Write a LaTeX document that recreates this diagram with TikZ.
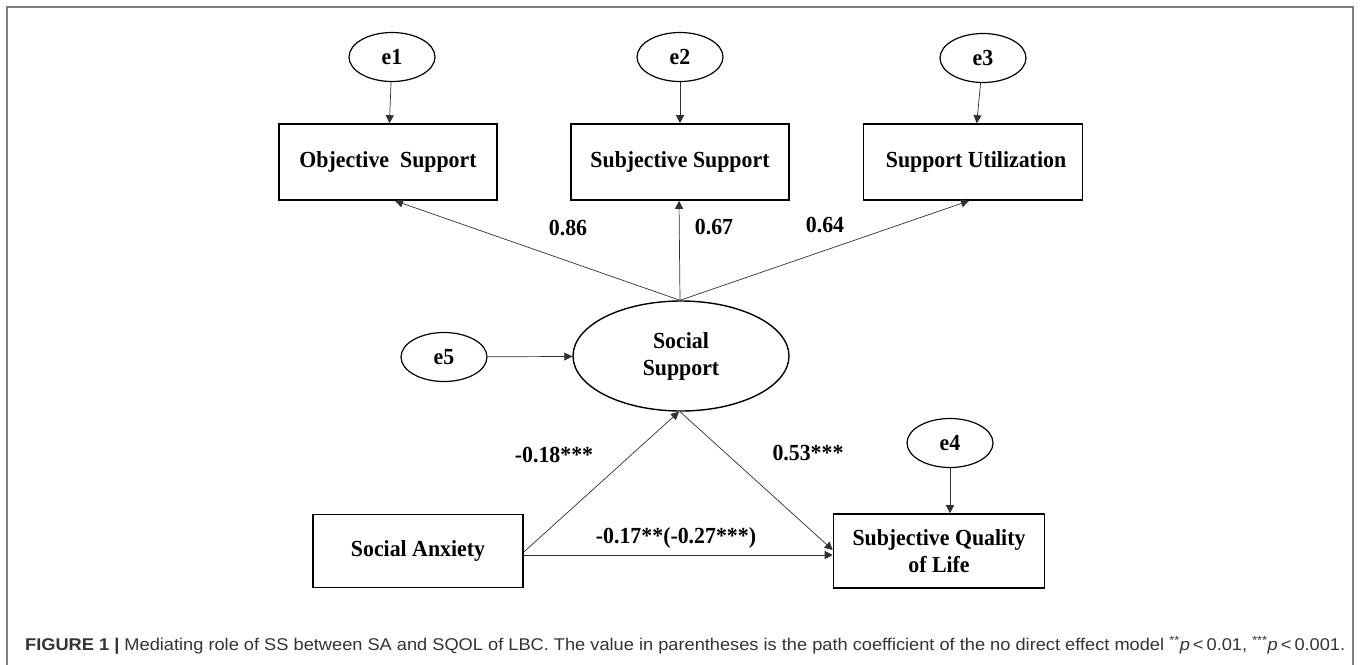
\documentclass[tikz,border=0pt]{standalone}
\usepackage{fontspec}
\setmainfont[FakeStretch=0.95]{Liberation Serif}
\newfontfamily\capfont{Liberation Sans}
\usetikzlibrary{shapes.geometric,arrows.meta}
\definecolor{framegray}{HTML}{808080}
\definecolor{capgray}{HTML}{333333}
\definecolor{linegray}{HTML}{303030}
\begin{document}
\begin{tikzpicture}[x=1pt,y=-1pt,
  every node/.style={font=\fontsize{23}{27}\selectfont\bfseries, align=center},
  obsbox/.style={draw=black, line width=1.6pt, rectangle, inner sep=0pt},
  errell/.style={draw=black, line width=1.2pt, ellipse, inner sep=0pt, minimum width=86pt, minimum height=49pt},
  latell/.style={draw=black, line width=1.4pt, ellipse, inner sep=0pt, minimum width=216pt, minimum height=110pt},
  conn/.style={draw=linegray, line width=0.7pt, -{Triangle[length=8pt,width=8pt]}},
  coef/.style={inner sep=0pt}
]
\useasboundingbox (0,0) rectangle (1360,664);
\draw[framegray, line width=1.5pt] (7,666) -- (7,7) -- (1353,7) -- (1353,666);

% error terms
\node[errell] (e1) at (392,57) {e1};
\node[errell] (e2) at (680,57) {e2};
\node[errell] (e3) at (983,58) {e3};
\node[errell] (e5) at (444,357) {e5};
\node[errell] (e4) at (950,443) {e4};

% observed boxes
\node[obsbox, minimum width=218pt, minimum height=76pt] (os) at (388,162) {Objective\ \ Support};
\node[obsbox, minimum width=218pt, minimum height=76pt] (subs) at (680,162) {Subjective Support};
\node[obsbox, minimum width=219pt, minimum height=76pt] (su) at (973,162) {\hspace*{6pt}Support Utilization};
\node[obsbox, minimum width=210pt, minimum height=73pt] (sa) at (418,551) {Social Anxiety};
\node[obsbox, minimum width=211pt, minimum height=74pt] (sqol) at (939,551) {Subjective Quality\\of Life};

% latent
\node[latell] (ss) at (681,356) {Social\\Support};

% connectors
\draw[conn] (e1) -- (os);
\draw[conn] (e2) -- (subs);
\draw[conn] (e3) -- (su);
\draw[conn] (e4) -- (sqol.north -| e4);
\draw[conn] (e5) -- (ss);
\draw[conn] ([xshift=-1pt]ss.north) -- ([xshift=7pt]os.south);
\draw[conn] ([xshift=-1pt]ss.north) -- ([xshift=-1pt]subs.south);
\draw[conn] ([xshift=-1pt]ss.north) -- ([xshift=-4pt]su.south);
\draw[conn] ([yshift=-1pt]sa.east) -- ([xshift=-2pt]ss.south);
\draw[conn] ([xshift=-1pt]ss.south) -- ([yshift=1pt]sqol.west);
\draw[conn] ([yshift=-4pt]sa.east) -- ([yshift=-4pt]sqol.west);

% coefficients
\node[coef] (c1) at (568,228) {0.86};
\node[coef] (c2) at (714,227) {0.67};
\node[coef] (c3) at (825,225) {0.64};
\node[coef] (c4) at (554,455) {-0.18***};
\node[coef] (c5) at (808,453) {0.53***};
\node[coef] (c6) at (676,538) {-0.17**(-0.27***)};

% caption
\node[anchor=west, inner sep=0pt, font=\capfont\fontsize{17}{20}\selectfont, text=capgray] (cap) at (25,645)
  {\resizebox{1320pt}{\height}{\textbf{FIGURE 1 |} Mediating role of SS between SA and SQOL of LBC. The value in parentheses is the path coefficient of the no direct effect model \textsuperscript{**}\textit{p}\,<\,0.01, \textsuperscript{***}\textit{p}\,<\,0.001.}};
\end{tikzpicture}
\end{document}
